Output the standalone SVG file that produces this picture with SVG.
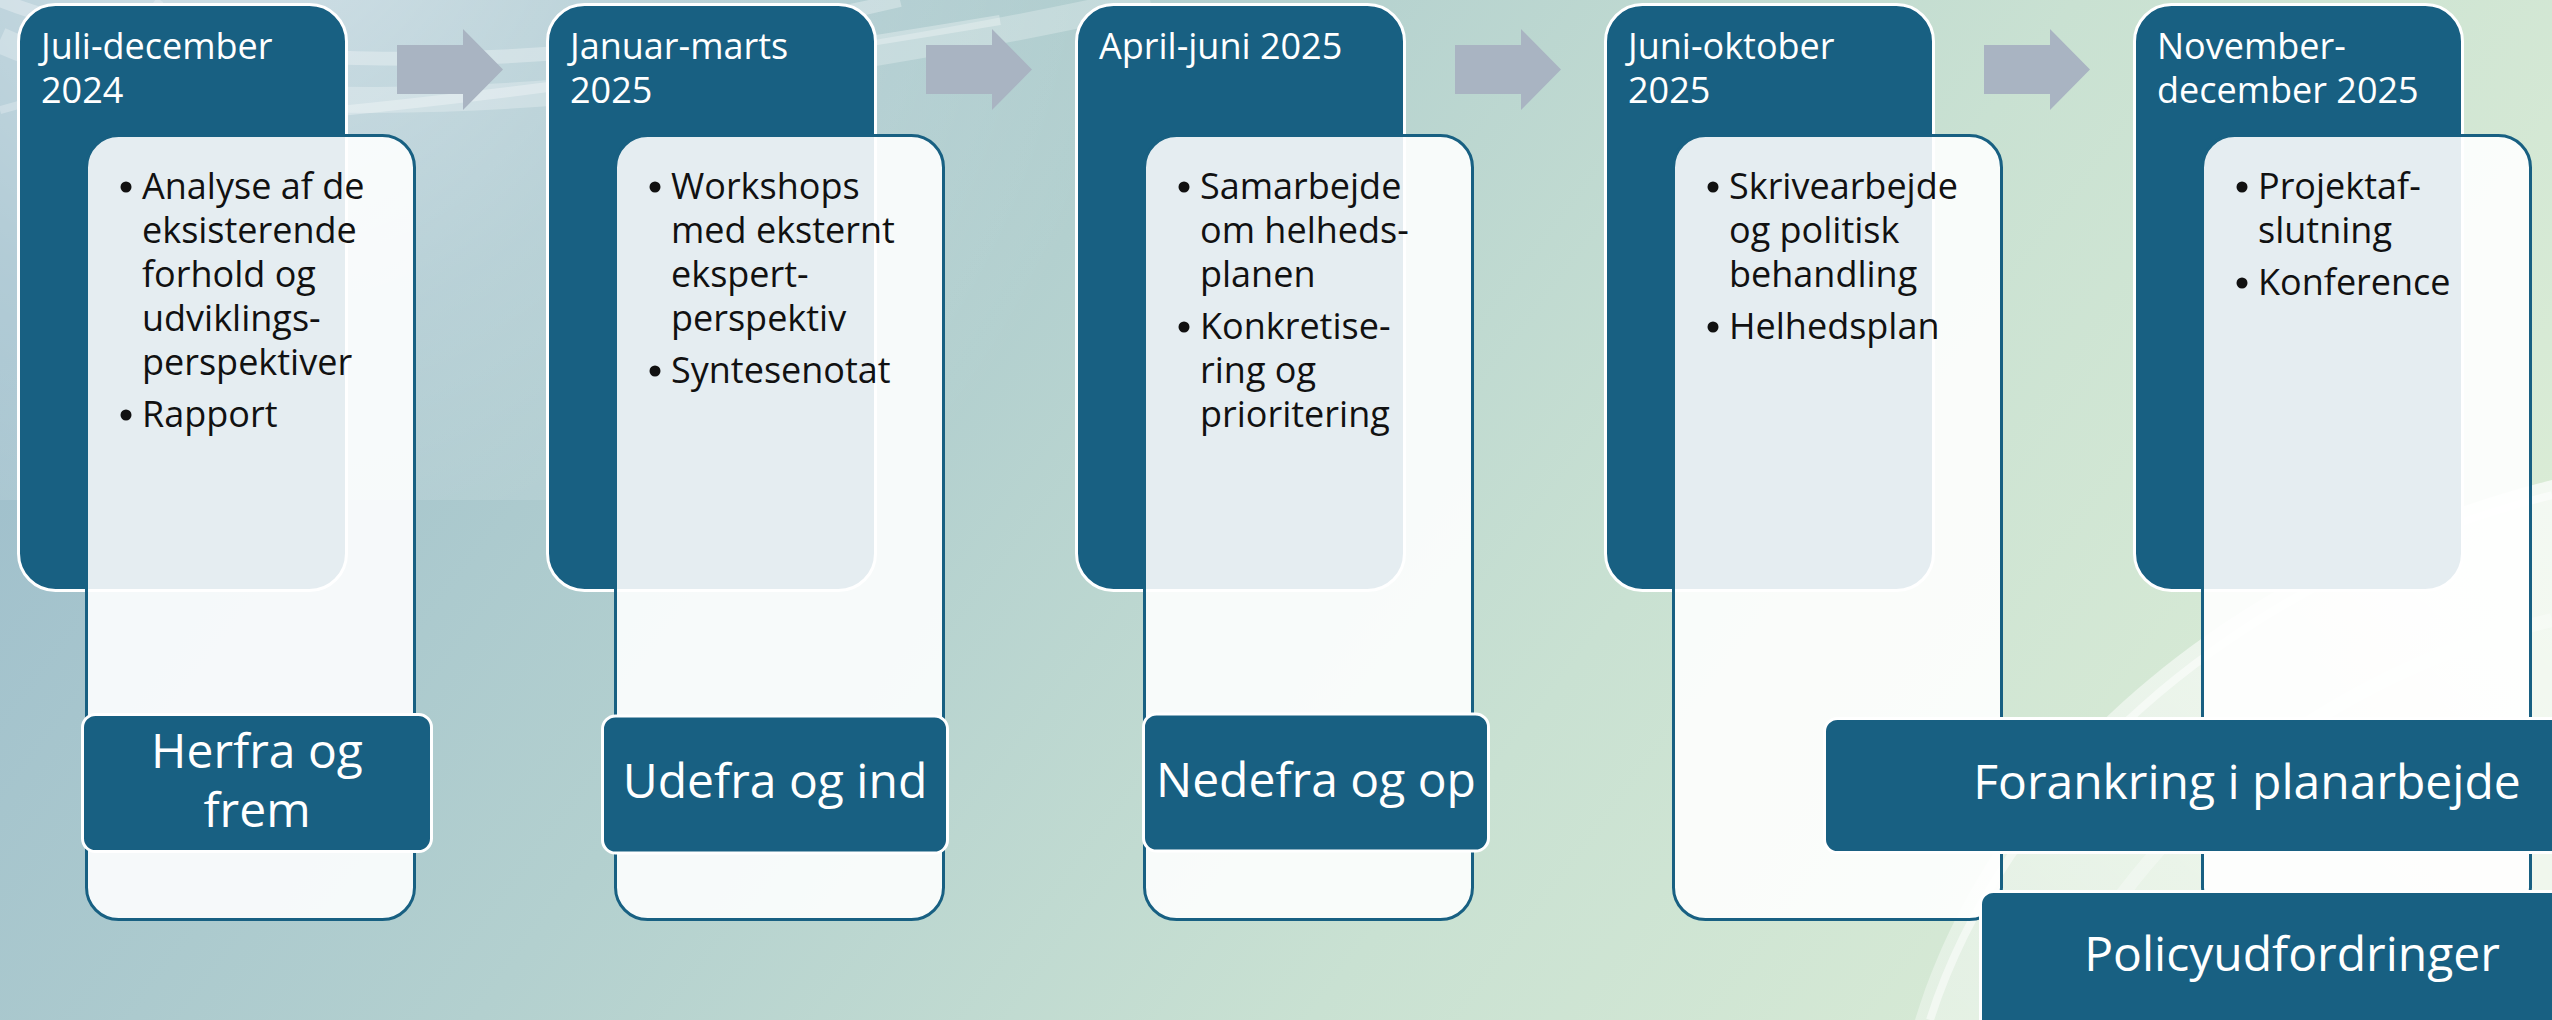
<svg xmlns="http://www.w3.org/2000/svg" width="2552" height="1020" viewBox="0 0 2552 1020">
  <defs>
    <linearGradient id="bg" x1="0" y1="0.35" x2="1" y2="0.65">
      <stop offset="0" stop-color="#9fbfcc"/>
      <stop offset="0.35" stop-color="#b3d0cf"/>
      <stop offset="0.65" stop-color="#c9e1d2"/>
      <stop offset="1" stop-color="#dcedd6"/>
    </linearGradient>
    <radialGradient id="glowTL" cx="250" cy="-120" r="900" gradientUnits="userSpaceOnUse">
      <stop offset="0" stop-color="#ffffff" stop-opacity="0.55"/>
      <stop offset="0.5" stop-color="#ffffff" stop-opacity="0.2"/>
      <stop offset="1" stop-color="#ffffff" stop-opacity="0"/>
    </radialGradient>
    <linearGradient id="glowBR" x1="0" y1="1" x2="1" y2="0">
      <stop offset="0" stop-color="#ffffff" stop-opacity="0.35"/>
      <stop offset="1" stop-color="#ffffff" stop-opacity="0.7"/>
    </linearGradient>
    <style>
      .hdr { fill: #186082; stroke: #ffffff; stroke-width: 3; }
      .card { fill: #ffffff; fill-opacity: 0.89; stroke: #186082; stroke-width: 3; }
      .lbl { fill: #186082; stroke: #ffffff; stroke-width: 3; }
      .arrow { fill: #a9b4c2; }
      .htxt { font-family: "Open Sans", "Noto Sans", sans-serif; font-size: 36px; fill: #ffffff; }
      .btxt { font-family: "Open Sans", "Noto Sans", sans-serif; font-size: 36px; fill: #111111; }
      .ltxt { font-family: "Open Sans", "Noto Sans", sans-serif; font-size: 48px; fill: #ffffff; text-anchor: middle; }
      .dot { fill: #111111; }
      .sw { fill: none; stroke: #ffffff; }
    </style>
  </defs>

  <!-- background -->
  <rect x="0" y="0" width="2552" height="1020" fill="url(#bg)"/>
  <rect x="0" y="0" width="1300" height="500" fill="url(#glowTL)"/>
  <g id="swooshes">
    <path class="sw" d="M0,40 C200,130 600,120 1150,0" stroke-width="26" stroke-opacity="0.25"/>
    <path class="sw" d="M0,0 C150,60 500,95 900,0" stroke-width="14" stroke-opacity="0.3"/>
    <path class="sw" d="M330,112 C500,95 700,70 1000,20" stroke-width="10" stroke-opacity="0.3"/>
    <path class="sw" d="M0,110 C80,90 120,60 160,0" stroke-width="8" stroke-opacity="0.25"/>
    <path d="M1915,1020 C1985,790 2200,570 2552,480 L2552,1020 Z" fill="url(#glowBR)"/>
    <path class="sw" d="M1930,1020 C2000,800 2220,580 2552,495" stroke-width="8" stroke-opacity="0.5"/>
    <path class="sw" d="M2050,1020 C2120,850 2300,680 2552,620" stroke-width="14" stroke-opacity="0.3"/>
  </g>

  <!-- connectors -->
  <g id="connectors">
    <polygon class="arrow" points="397,45 463,45 463,29 503,69.5 463,110 463,94 397,94"/>
    <polygon class="arrow" points="926,45 992,45 992,29 1032,69.5 992,110 992,94 926,94"/>
    <polygon class="arrow" points="1455,45 1521,45 1521,29 1561,69.5 1521,110 1521,94 1455,94"/>
    <polygon class="arrow" points="1984,45 2050,45 2050,29 2090,69.5 2050,110 2050,94 1984,94"/>
  </g>

  <!-- column 1 -->
  <g id="phase1">
    <rect class="hdr" x="18.5" y="4.5" width="328" height="586" rx="37"/>
    <text class="htxt" x="41" y="59">Juli-december</text>
    <text class="htxt" x="41" y="103">2024</text>
    <rect class="card" x="86.5" y="135.5" width="328" height="784" rx="32"/>
    <circle class="dot" cx="126" cy="187" r="5.5"/>
    <text class="btxt" x="142" y="199">Analyse af de</text>
    <text class="btxt" x="142" y="243">eksisterende</text>
    <text class="btxt" x="142" y="287">forhold og</text>
    <text class="btxt" x="142" y="331">udviklings-</text>
    <text class="btxt" x="142" y="375">perspektiver</text>
    <circle class="dot" cx="126" cy="415" r="5.5"/>
    <text class="btxt" x="142" y="427">Rapport</text>
  </g>

  <!-- column 2 -->
  <g id="phase2">
    <rect class="hdr" x="547.5" y="4.5" width="328" height="586" rx="37"/>
    <text class="htxt" x="570" y="59">Januar-marts</text>
    <text class="htxt" x="570" y="103">2025</text>
    <rect class="card" x="615.5" y="135.5" width="328" height="784" rx="32"/>
    <circle class="dot" cx="655" cy="187" r="5.5"/>
    <text class="btxt" x="671" y="199">Workshops</text>
    <text class="btxt" x="671" y="243">med eksternt</text>
    <text class="btxt" x="671" y="287">ekspert-</text>
    <text class="btxt" x="671" y="331">perspektiv</text>
    <circle class="dot" cx="655" cy="371" r="5.5"/>
    <text class="btxt" x="671" y="383">Syntesenotat</text>
  </g>

  <!-- column 3 -->
  <g id="phase3">
    <rect class="hdr" x="1076.5" y="4.5" width="328" height="586" rx="37"/>
    <text class="htxt" x="1099" y="59">April-juni 2025</text>
    <rect class="card" x="1144.5" y="135.5" width="328" height="784" rx="32"/>
    <circle class="dot" cx="1184" cy="187" r="5.5"/>
    <text class="btxt" x="1200" y="199">Samarbejde</text>
    <text class="btxt" x="1200" y="243">om helheds-</text>
    <text class="btxt" x="1200" y="287">planen</text>
    <circle class="dot" cx="1184" cy="327" r="5.5"/>
    <text class="btxt" x="1200" y="339">Konkretise-</text>
    <text class="btxt" x="1200" y="383">ring og</text>
    <text class="btxt" x="1200" y="427">prioritering</text>
  </g>

  <!-- column 4 -->
  <g id="phase4">
    <rect class="hdr" x="1605.5" y="4.5" width="328" height="586" rx="37"/>
    <text class="htxt" x="1628" y="59">Juni-oktober</text>
    <text class="htxt" x="1628" y="103">2025</text>
    <rect class="card" x="1673.5" y="135.5" width="328" height="784" rx="32"/>
    <circle class="dot" cx="1713" cy="187" r="5.5"/>
    <text class="btxt" x="1729" y="199">Skrivearbejde</text>
    <text class="btxt" x="1729" y="243">og politisk</text>
    <text class="btxt" x="1729" y="287">behandling</text>
    <circle class="dot" cx="1713" cy="327" r="5.5"/>
    <text class="btxt" x="1729" y="339">Helhedsplan</text>
  </g>

  <!-- column 5 -->
  <g id="phase5">
    <rect class="hdr" x="2134.5" y="4.5" width="328" height="586" rx="37"/>
    <text class="htxt" x="2157" y="59">November-</text>
    <text class="htxt" x="2157" y="103">december 2025</text>
    <rect class="card" x="2202.5" y="135.5" width="328" height="784" rx="32"/>
    <circle class="dot" cx="2242" cy="187" r="5.5"/>
    <text class="btxt" x="2258" y="199">Projektaf-</text>
    <text class="btxt" x="2258" y="243">slutning</text>
    <circle class="dot" cx="2242" cy="283" r="5.5"/>
    <text class="btxt" x="2258" y="295">Konference</text>
  </g>

  <!-- bottom labels -->
  <g id="label-herfra">
    <rect class="lbl" x="82.5" y="714.5" width="349" height="137" rx="13"/>
    <text class="ltxt" x="257" y="768">Herfra og</text>
    <text class="ltxt" x="257" y="827">frem</text>
  </g>
  <g id="label-udefra">
    <rect class="lbl" x="602.5" y="716" width="345" height="137" rx="13"/>
    <text class="ltxt" x="775" y="798">Udefra og ind</text>
  </g>
  <g id="label-nedefra">
    <rect class="lbl" x="1143.5" y="714" width="345" height="137" rx="13"/>
    <text class="ltxt" x="1316" y="797">Nedefra og op</text>
  </g>
  <g id="label-forankring">
    <rect class="lbl" x="1824.5" y="718.5" width="900" height="134" rx="13"/>
    <text class="ltxt" x="2247" y="799">Forankring i planarbejde</text>
  </g>
  <g id="label-policy">
    <rect class="lbl" x="1980.5" y="891.5" width="700" height="200" rx="13"/>
    <text class="ltxt" x="2292" y="971">Policyudfordringer</text>
  </g>
</svg>
